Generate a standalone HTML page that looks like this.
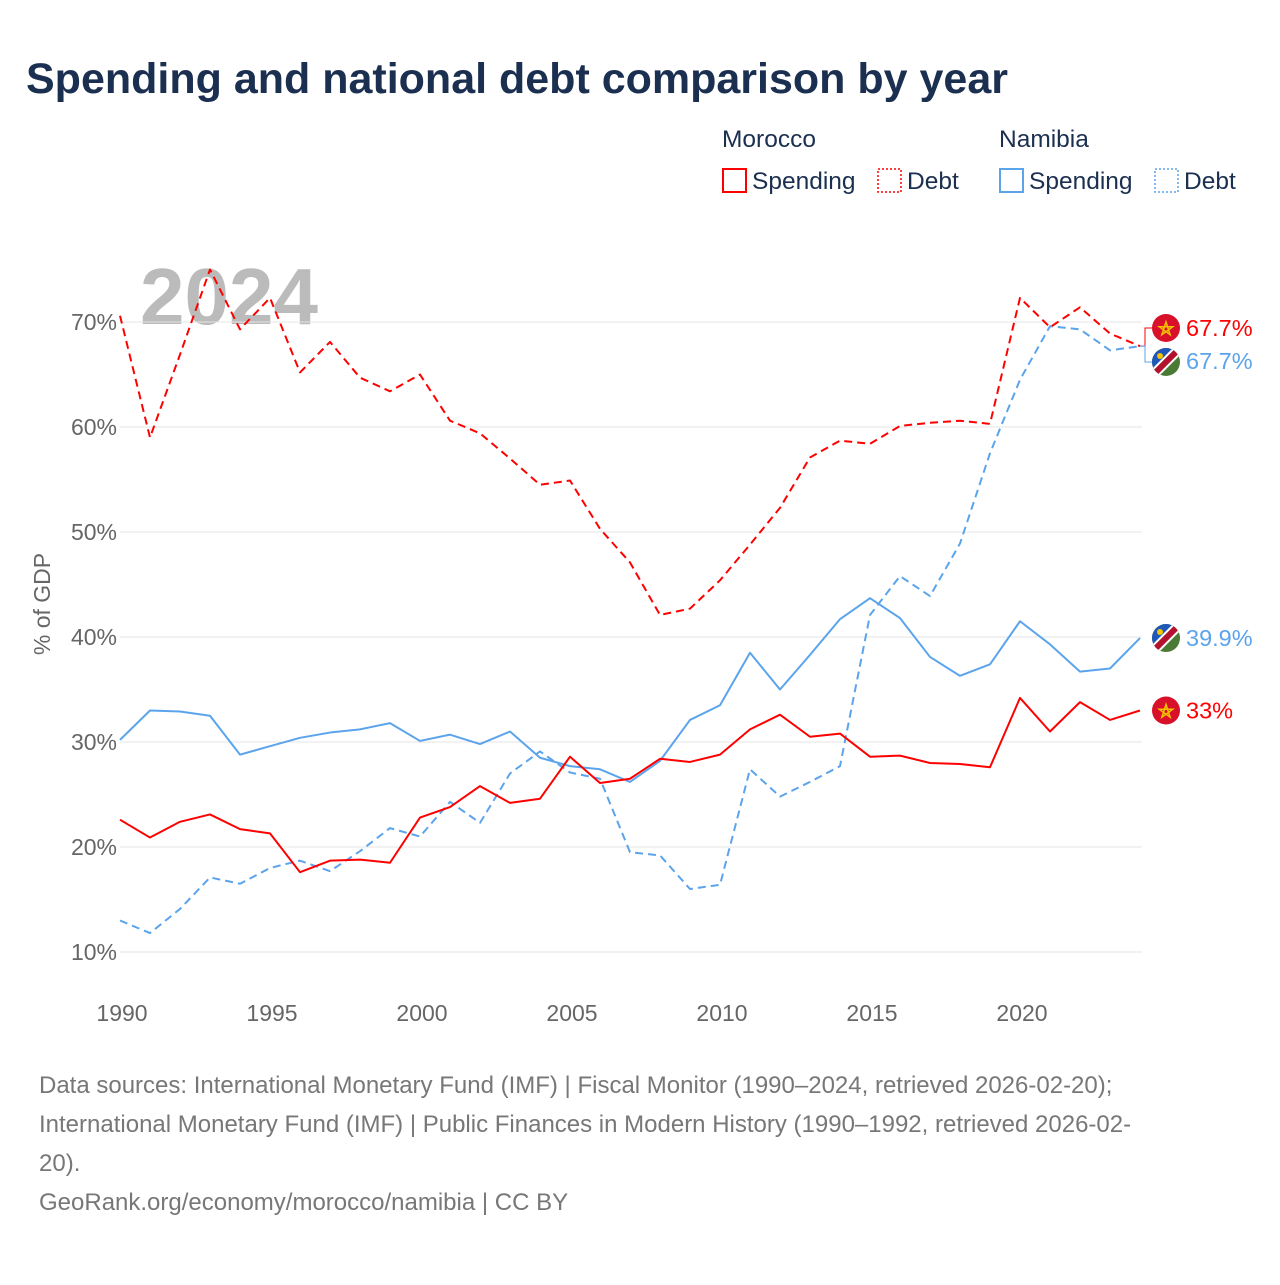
<!DOCTYPE html>
<html><head><meta charset="utf-8">
<style>
html,body{margin:0;padding:0;background:#fff;}
body{width:1280px;height:1280px;position:relative;font-family:"Liberation Sans",sans-serif;overflow:hidden;}
svg text{font-family:"Liberation Sans",sans-serif;}
</style></head>
<body>
<svg id="chart" width="1280" height="1280" xmlns="http://www.w3.org/2000/svg">
<text x="26" y="93" font-size="43" font-weight="bold" fill="#1b2f50">Spending and national debt comparison by year</text>
<g font-size="24.5" fill="#1b2f50">
<text x="722" y="147">Morocco</text>
<text x="999" y="147">Namibia</text>
<g><rect x="723" y="169" width="23" height="23" fill="none" stroke="#f00" stroke-width="2"/><text x="752" y="189">Spending</text></g>
<g><rect x="878" y="169" width="23" height="23" fill="none" stroke="#f00" stroke-width="1.5" stroke-dasharray="2,2"/><text x="907" y="189">Debt</text></g>
<g><rect x="1000" y="169" width="23" height="23" fill="none" stroke="#5ba4ec" stroke-width="2"/><text x="1029" y="189">Spending</text></g>
<g><rect x="1155" y="169" width="23" height="23" fill="none" stroke="#5ba4ec" stroke-width="1.5" stroke-dasharray="2,2"/><text x="1184" y="189">Debt</text></g>
</g>
<text x="140" y="324" font-size="80" font-weight="bold" fill="#bbb">2024</text>
<g id="grid"></g>
<g id="series"></g>
<g id="labels"></g>
<text transform="translate(50,604) rotate(-90)" text-anchor="middle" font-size="23" fill="#666">% of GDP</text>
<g font-size="24" fill="#777">
<text x="39" y="1093">Data sources: International Monetary Fund (IMF) | Fiscal Monitor (1990–2024, retrieved 2026-02-20);</text>
<text x="39" y="1132">International Monetary Fund (IMF) | Public Finances in Modern History (1990–1992, retrieved 2026-02-</text>
<text x="39" y="1171">20).</text>
<text x="39" y="1210">GeoRank.org/economy/morocco/namibia | CC BY</text>
</g>
</svg>
<script>
const years = [1990,1991,1992,1993,1994,1995,1996,1997,1998,1999,2000,2001,2002,2003,2004,2005,2006,2007,2008,2009,2010,2011,2012,2013,2014,2015,2016,2017,2018,2019,2020,2021,2022,2023,2024];
const moroccoSpending = [22.6,20.9,22.4,23.1,21.7,21.3,17.6,18.7,18.8,18.5,22.8,23.8,25.8,24.2,24.6,28.6,26.1,26.5,28.4,28.1,28.8,31.2,32.6,30.5,30.8,28.6,28.7,28.0,27.9,27.6,34.2,31.0,33.8,32.1,33.0];
const moroccoDebt = [70.6,59.0,66.9,75.0,69.3,72.3,65.2,68.1,64.7,63.4,65.0,60.6,59.4,57.0,54.5,54.9,50.3,47.1,42.1,42.7,45.4,48.8,52.3,57.1,58.7,58.4,60.1,60.4,60.6,60.3,72.3,69.5,71.4,68.9,67.7];
const namibiaSpending = [30.2,33.0,32.9,32.5,28.8,29.6,30.4,30.9,31.2,31.8,30.1,30.7,29.8,31.0,28.5,27.7,27.4,26.2,28.2,32.1,33.5,38.5,35.0,38.3,41.7,43.7,41.8,38.1,36.3,37.4,41.5,39.3,36.7,37.0,39.9];
const namibiaDebt = [13.0,11.8,14.1,17.1,16.5,18.0,18.7,17.7,19.6,21.8,21.0,24.3,22.3,27.0,29.1,27.1,26.5,19.5,19.2,16.0,16.4,27.4,24.8,26.2,27.7,42.1,45.8,43.9,48.9,57.5,64.5,69.6,69.3,67.3,67.7];
const yTicks = [10,20,30,40,50,60,70];
const xTicks = [1990,1995,2000,2005,2010,2015,2020];

const NS='http://www.w3.org/2000/svg';
const X = yr => 120 + (yr-1990)*30;
const Y = v => 952 - (v-10)*10.5;
function mk(tag, attrs, parent){const e=document.createElementNS(NS,tag);for(const k in attrs)e.setAttribute(k,attrs[k]);parent.appendChild(e);return e;}
const grid=document.getElementById('grid'), ser=document.getElementById('series'), lab=document.getElementById('labels');
yTicks.forEach(t=>{
  const l=mk('line',{x1:120,x2:1142,y1:Y(t),y2:Y(t),stroke:'#e6e6e6','stroke-width':1},grid);
  
  
  const tx=mk('text',{x:117,y:Y(t)+8,'text-anchor':'end','font-size':23,fill:'#666'},grid);
  tx.textContent=t+'%';
  
  
});
xTicks.forEach(t=>{
  const tx=mk('text',{x:X(t)+2,y:1021,'text-anchor':'middle','font-size':23,fill:'#666'},grid);
  tx.textContent=t;
  
  
});
function line(vals,color,dash,name){
  const d=vals.map((v,i)=>(i?'L':'M')+X(years[i])+','+Y(v)).join(' ');
  const p=mk('path',{d:d,fill:'none',stroke:color,'stroke-width':2,'stroke-dasharray':dash||'none','stroke-linejoin':'round'},ser);
  
  
}
line(namibiaDebt,'#5ba4ec','8,5','line-namibia-debt');
line(moroccoDebt,'#f00','8,5','line-morocco-debt');
line(namibiaSpending,'#5ba4ec','','line-namibia-spending');
line(moroccoSpending,'#f00','','line-morocco-spending');

function moFlag(cx,cy,name){
  const g=mk('g',{},lab);
  
  
  mk('circle',{cx:cx,cy:cy,r:14,fill:'#d8102a'},g);
  const pts=[];for(let i=0;i<5;i++){const a=-Math.PI/2+i*4*Math.PI/5;pts.push((cx+7*Math.cos(a)).toFixed(1)+','+(cy+1+7*Math.sin(a)).toFixed(1));}
  mk('polygon',{points:pts.join(' '),fill:'none',stroke:'#f5c400','stroke-width':1.5},g);
}
function naFlag(cx,cy,name){
  const g=mk('g',{},lab);
  
  
  const id='c'+Math.round(cy);
  const cp=mk('clipPath',{id:id},g);mk('circle',{cx:cx,cy:cy,r:14},cp);
  const gg=mk('g',{'clip-path':'url(#'+id+')'},g);
  mk('rect',{x:cx-14,y:cy-14,width:28,height:28,fill:'#4a7a34'},gg);
  mk('polygon',{points:`${cx-14},${cy-14} ${cx+14},${cy-14} ${cx-14},${cy+14}`,fill:'#1f58b8'},gg);
  mk('line',{x1:cx-16,y1:cy+16,x2:cx+16,y2:cy-16,stroke:'#fff','stroke-width':10},gg);
  mk('line',{x1:cx-16,y1:cy+16,x2:cx+16,y2:cy-16,stroke:'#b3122e','stroke-width':6},gg);
  mk('circle',{cx:cx-6,cy:cy-6,r:3,fill:'#f5c400'},gg);
}
function valLabel(x,y,txt,color,name){
  const t=mk('text',{x:x,y:y,'font-size':23.5,fill:color},lab);
  t.textContent=txt;
  
  
}
const last=years.length-1;
mk('path',{d:`M${X(2024)},${Y(moroccoDebt[last])} L1145,${Y(moroccoDebt[last])} L1145,328 L1152,328`,fill:'none',stroke:'#f00','stroke-width':1},lab);
mk('path',{d:`M${X(2024)},${Y(namibiaDebt[last])} L1145,${Y(namibiaDebt[last])} L1145,362 L1152,362`,fill:'none',stroke:'#5ba4ec','stroke-width':1},lab);
moFlag(1166,328,'flag-morocco-debt');
valLabel(1186,336,moroccoDebt[last]+'%','#f00','label-morocco-debt');
naFlag(1166,362,'flag-namibia-debt');
valLabel(1186,369,namibiaDebt[last]+'%','#5ba4ec','label-namibia-debt');
naFlag(1166,Y(namibiaSpending[last]),'flag-namibia-spending');
valLabel(1186,Y(namibiaSpending[last])+8,namibiaSpending[last]+'%','#5ba4ec','label-namibia-spending');
moFlag(1166,Y(moroccoSpending[last]),'flag-morocco-spending');
valLabel(1186,Y(moroccoSpending[last])+8,moroccoSpending[last]+'%','#f00','label-morocco-spending');
</script>
</body></html>
